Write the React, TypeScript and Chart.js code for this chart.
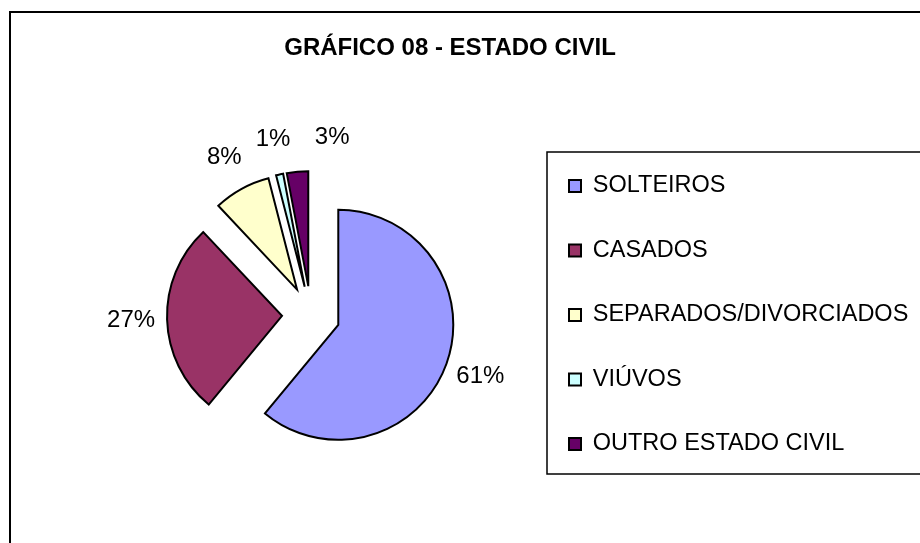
import React, { useEffect, useRef } from 'react';
import { Chart, registerables } from 'chart.js';

Chart.register(...registerables);

const categories = ['SOLTEIROS', 'CASADOS', 'SEPARADOS/DIVORCIADOS', 'VIÚVOS', 'OUTRO ESTADO CIVIL'];
const percentages = [61, 27, 8, 1, 3];
const sliceColors = ['#9999FF', '#993366', '#FFFFCC', '#CCFFFF', '#660066'];
const chartTitle = 'GRÁFICO 08 - ESTADO CIVIL';

const FONT = "'Liberation Sans', Arial, sans-serif";
const EXPLODE = 29;
const LABEL_DIST = 36;
const LABEL_GAP = 24;

const explodePlugin = {
  id: 'explodeSlices',
  afterDatasetsUpdate(chart: any) {
    const meta = chart.getDatasetMeta(0);
    meta.data.forEach((arc: any) => {
      const mid = (arc.startAngle + arc.endAngle) / 2;
      arc.x += Math.cos(mid) * EXPLODE;
      arc.y += Math.sin(mid) * EXPLODE;
    });
  },
};

// let legend text run past the layout box (like the reference, whose legend is cut by the frame)
const legendWidenPlugin = {
  id: 'legendWiden',
  afterLayout(chart: any) {
    const lg = chart.legend;
    if (lg) {
      lg.right = lg.left + 460;
      lg.width = 460;
    }
  },
};

const framePlugin = {
  id: 'frame',
  beforeDraw(chart: any) {
    const ctx = chart.ctx;
    ctx.save();
    ctx.fillStyle = '#fff';
    ctx.fillRect(0, 0, chart.width, chart.height);
    ctx.strokeStyle = '#000';
    ctx.lineWidth = 2;
    ctx.strokeRect(10, 12, chart.width + 40, chart.height + 40);
    const lg = chart.legend;
    if (lg) {
      const cy = (lg.top + lg.bottom) / 2;
      ctx.lineWidth = 1.5;
      ctx.strokeRect(lg.left + 19, cy - 163, 600, 322);
    }
    ctx.restore();
  },
};

const labelPlugin = {
  id: 'pctLabels',
  afterDatasetsDraw(chart: any) {
    const ctx = chart.ctx;
    const meta = chart.getDatasetMeta(0);
    const values: number[] = chart.data.datasets[0].data;
    const total = values.reduce((a, b) => a + b, 0);
    ctx.save();
    ctx.font = `24px ${FONT}`;
    ctx.fillStyle = '#000';
    ctx.textAlign = 'center';
    ctx.textBaseline = 'middle';
    const h = 18;
    const placed: any[] = [];
    meta.data.forEach((arc: any, i: number) => {
      const text = `${Math.round((values[i] / total) * 100)}%`;
      const w = ctx.measureText(text).width;
      const dist = arc.outerRadius + LABEL_DIST;
      let ang = (arc.startAngle + arc.endAngle) / 2;
      const pos = (a: number) => ({ x: arc.x + Math.cos(a) * dist, y: arc.y + Math.sin(a) * dist });
      const overlaps = (p: any) =>
        placed.some(
          (q) => Math.abs(p.x - q.x) < (w + q.w) / 2 + LABEL_GAP && Math.abs(p.y - q.y) < (h + q.h) / 2
        );
      let p = pos(ang);
      let guard = 0;
      while (overlaps(p) && guard < 720) {
        ang += Math.PI / 360;
        p = pos(ang);
        guard++;
      }
      placed.push({ x: p.x, y: p.y, w, h });
      ctx.fillText(text, p.x, p.y);
    });
    ctx.restore();
  },
};

export default function App() {
  const ref = useRef<HTMLCanvasElement | null>(null);
  useEffect(() => {
    if (!ref.current) return;
    const chart = new Chart(ref.current, {
      type: 'pie',
      data: {
        labels: categories,
        datasets: [
          {
            data: percentages,
            backgroundColor: sliceColors,
            borderColor: '#000',
            borderWidth: 2,
            borderJoinStyle: 'miter',
            radius: 115,
          } as any,
        ],
      },
      options: {
        responsive: false,
        animation: false,
        events: [],
        layout: { padding: { left: 94, right: 154, top: 0, bottom: 0 } },
        plugins: {
          title: {
            display: true,
            text: chartTitle,
            color: '#000',
            font: { family: FONT, size: 24, weight: 'bold' },
            padding: { top: 34, bottom: 7.2 },
          },
          legend: {
            position: 'right',
            fullSize: false,
            maxWidth: 278,
            labels: {
              boxWidth: 12,
              boxHeight: 12,
              padding: 41,
              color: '#000',
              font: { family: FONT, size: 23.5 },
            },
          },
          tooltip: { enabled: false },
        },
      },
      plugins: [explodePlugin, legendWidenPlugin, framePlugin, labelPlugin],
    });
    return () => chart.destroy();
  }, []);
  return (
    <div style={{ position: 'absolute', left: 0, top: 0, width: 920, height: 543, overflow: 'hidden', background: '#fff' }}>
      <canvas ref={ref} width={960} height={560} style={{ display: 'block' }} />
    </div>
  );
}
